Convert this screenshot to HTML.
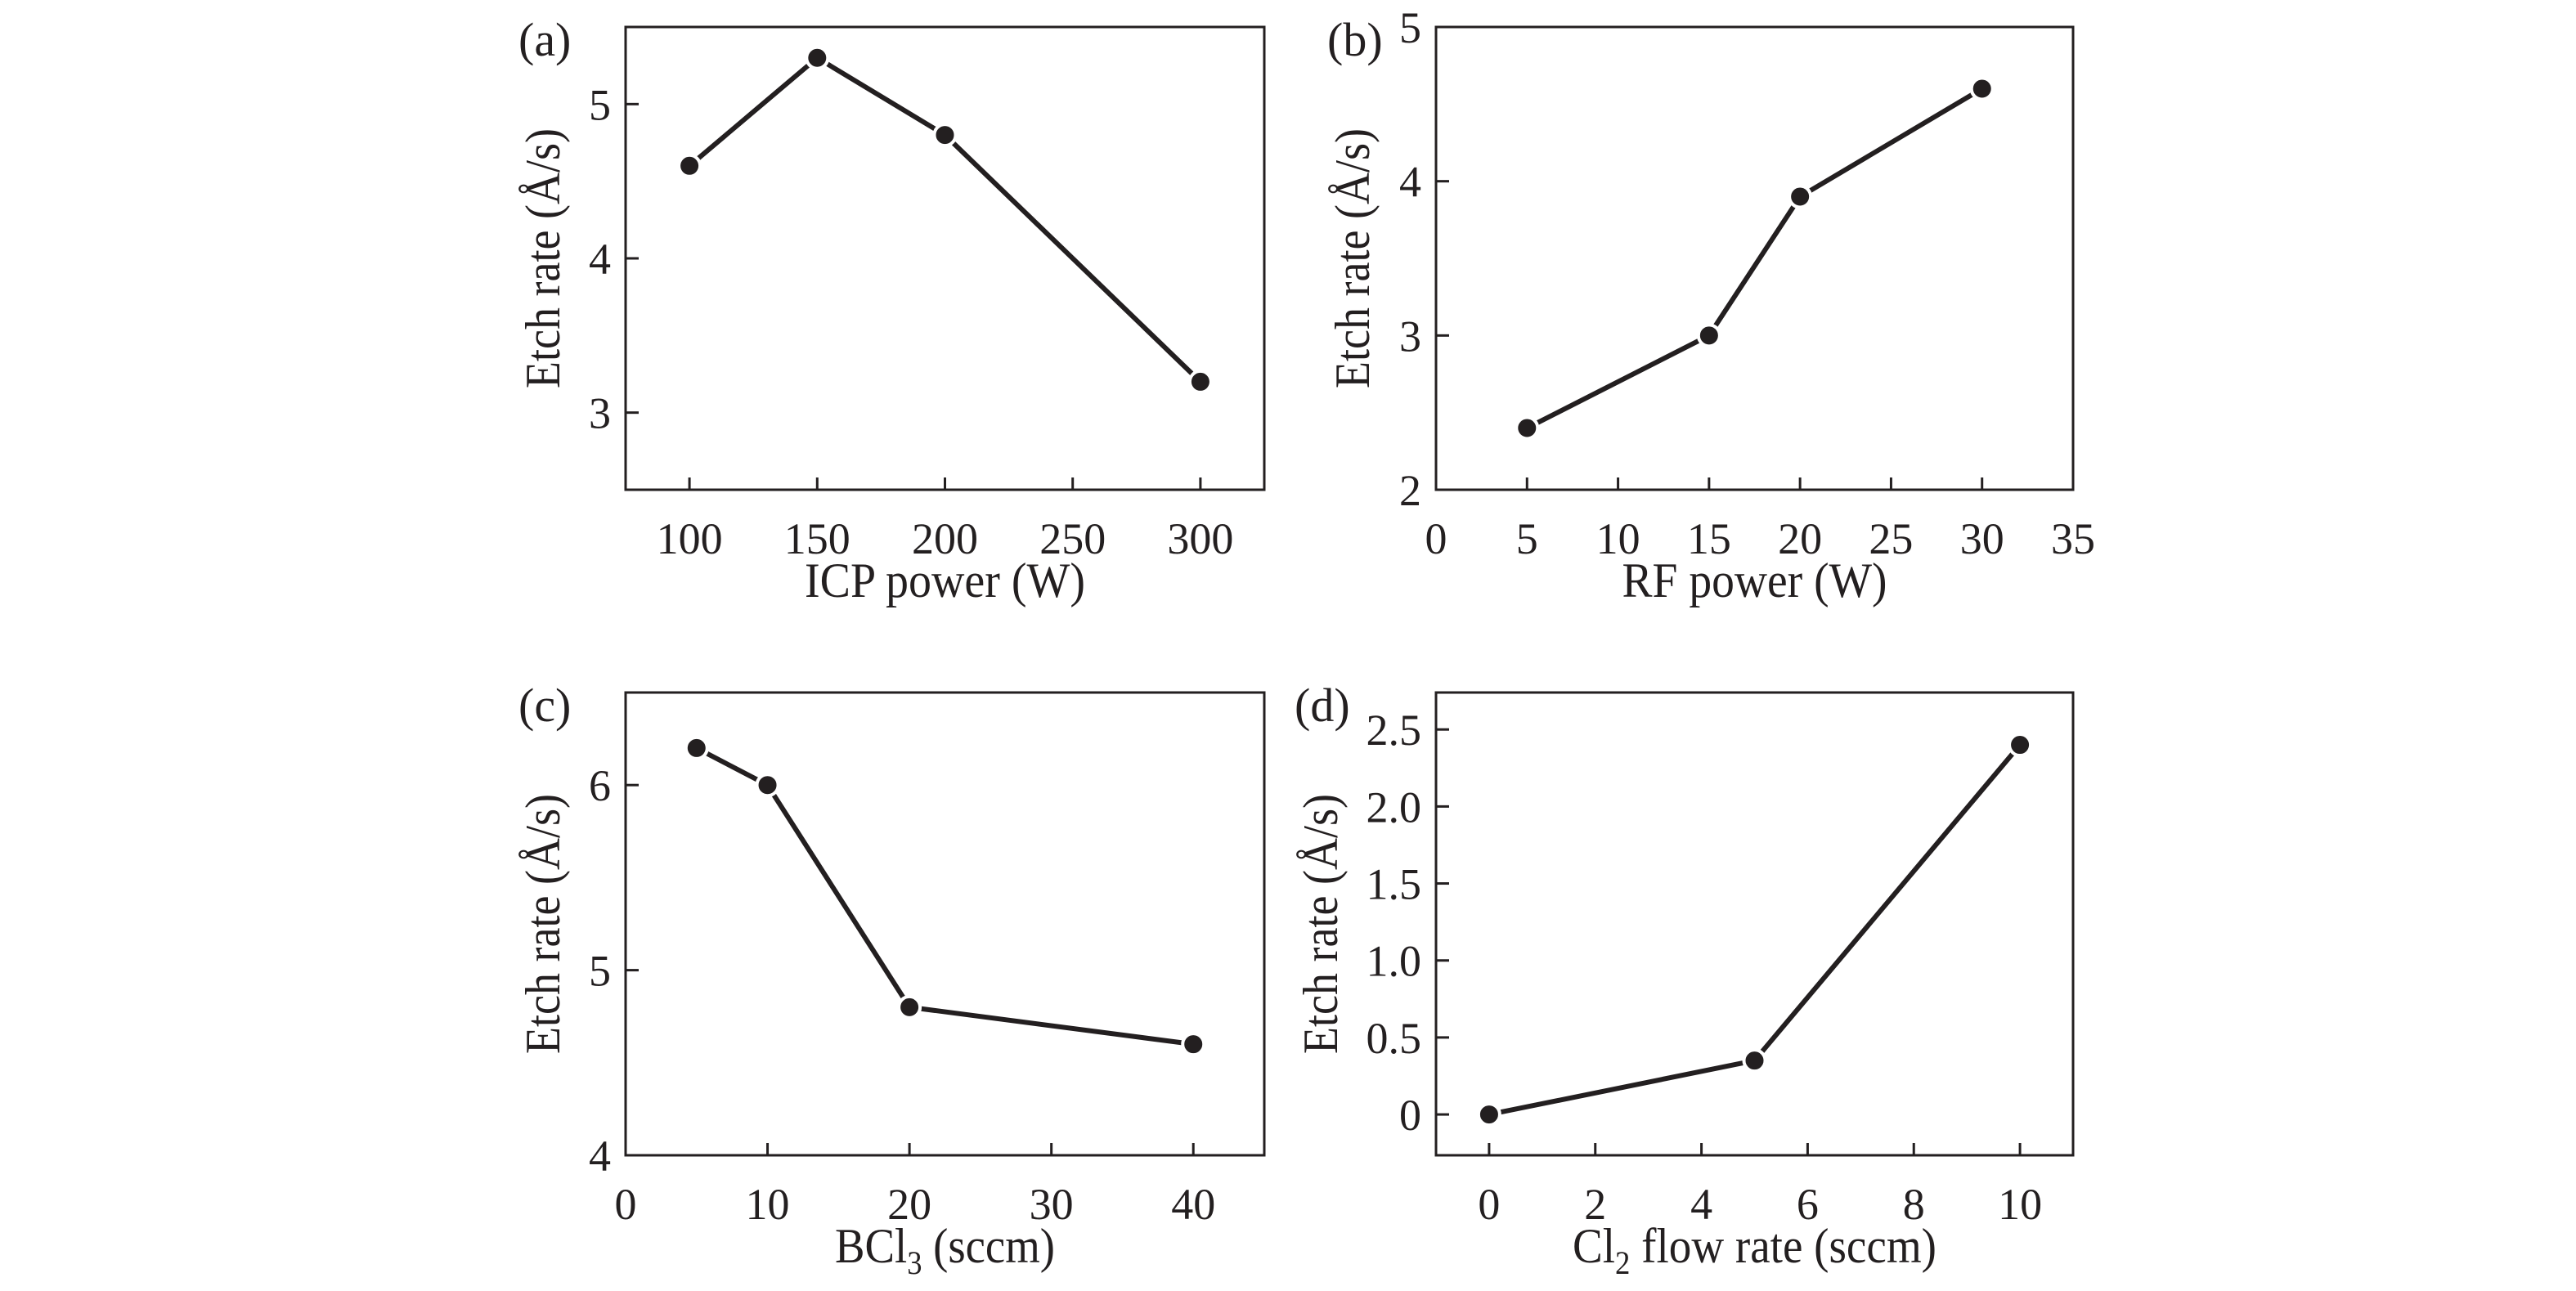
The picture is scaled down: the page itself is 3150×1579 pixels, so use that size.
<!DOCTYPE html>
<html><head><meta charset="utf-8"><style>
html,body{margin:0;padding:0;background:#fff}
svg{display:block}
text{font-family:"Liberation Serif",serif;fill:#231f20}
</style></head><body>
<svg id="fig" width="3150" height="1579" viewBox="0 0 3150 1579" xmlns="http://www.w3.org/2000/svg"></svg>
<script>
// Panel (a)
const aX = [100, 150, 200, 250, 300];
const aXvals = [100, 150, 200, 300];
const aYvals = [4.6, 5.3, 4.8, 3.2];
const aYticks = [3, 4, 5];
const aXlabels = ["100", "150", "200", "250", "300"];
const aYlabels = ["3", "4", "5"];
// Panel (b)
const bXvals = [5, 15, 20, 30];
const bYvals = [2.4, 3.0, 3.9, 4.6];
const bXticks = [0, 5, 10, 15, 20, 25, 30, 35];
const bXlabels = ["0", "5", "10", "15", "20", "25", "30", "35"];
const bYticks = [2, 3, 4, 5];
const bYlabels = ["2", "3", "4", "5"];
// Panel (c)
const cXvals = [5, 10, 20, 40];
const cYvals = [6.2, 6.0, 4.8, 4.6];
const cXticks = [0, 10, 20, 30, 40];
const cXlabels = ["0", "10", "20", "30", "40"];
const cYticks = [4, 5, 6];
const cYlabels = ["4", "5", "6"];
// Panel (d)
const dXvals = [0, 5, 10];
const dYvals = [0, 0.35, 2.4];
const dXticks = [0, 2, 4, 6, 8, 10];
const dXlabels = ["0", "2", "4", "6", "8", "10"];
const dYticks = [0, 0.5, 1.0, 1.5, 2.0, 2.5];
const dYlabels = ["0", "0.5", "1.0", "1.5", "2.0", "2.5"];

const NS = "http://www.w3.org/2000/svg";
const svg = document.getElementById("fig");
function mk(tag, attrs, parent){
  const e = document.createElementNS(NS, tag);
  for (const k in attrs) e.setAttribute(k, attrs[k]);
  (parent||svg).appendChild(e);
  return e;
}

function panel(o){
  const g = mk("g", {});
  
  
  const sx = v => o.x0 + (v - o.xmin) / (o.xmax - o.xmin) * (o.x1 - o.x0);
  const sy = v => o.y1 - (v - o.ymin) / (o.ymax - o.ymin) * (o.y1 - o.y0);
  const box = mk("rect", {x:o.x0, y:o.y0, width:o.x1-o.x0, height:o.y1-o.y0, fill:"none", stroke:"#231f20", "stroke-width":3}, g);
  
  
  o.xticks.forEach((t, i) => {
    const x = sx(t);
    if (Math.abs(x - o.x0) > 2 && Math.abs(x - o.x1) > 2) {
      const tk = mk("line", {x1:x, x2:x, y1:o.y1, y2:o.y1-15, stroke:"#231f20", "stroke-width":3}, g);
      
      
    }
    const lb = mk("text", {x:x, y:o.y1+78, "font-size":54, "text-anchor":"middle"}, g);
    lb.textContent = o.xlabels[i];
    
    
  });
  o.yticks.forEach((t, i) => {
    const y = sy(t);
    if (Math.abs(y - o.y0) > 2 && Math.abs(y - o.y1) > 2) {
      const tk = mk("line", {x1:o.x0, x2:o.x0+16, y1:y, y2:y, stroke:"#231f20", "stroke-width":3}, g);
      
      
    }
    const lb = mk("text", {x:o.x0-18, y:y+19, "font-size":54, "text-anchor":"end"}, g);
    lb.textContent = o.ylabels[i];
    
    
  });
  const pts = o.xv.map((v, i) => sx(v) + "," + sy(o.yv[i])).join(" ");
  const pl = mk("polyline", {points:pts, fill:"none", stroke:"#231f20", "stroke-width":6, "stroke-linejoin":"round"}, g);
  
  
  o.xv.forEach((v, i) => {
    const c = mk("circle", {cx:sx(v), cy:sy(o.yv[i]), r:13, fill:"#231f20", stroke:"#fff", "stroke-width":4}, g);
    
    
  });
  const xt = mk("text", {x:(o.x0+o.x1)/2, y:o.y1+131, "font-size":60, "text-anchor":"middle", textLength:o.xlen, lengthAdjust:"spacingAndGlyphs"}, g);
  xt.innerHTML = o.xtitle;
  
  
  const cx = o.x0 - o.yoff, cy = (o.y0 + o.y1)/2;
  const yt = mk("text", {x:cx, y:cy, "font-size":60, "text-anchor":"middle", textLength:318, lengthAdjust:"spacingAndGlyphs", transform:`rotate(-90 ${cx} ${cy}) translate(0 20)`}, g);
  yt.textContent = "Etch rate (Å/s)";
  
  
  const pl2 = mk("text", {x:o.lx, y:o.ly, "font-size":58}, g);
  pl2.textContent = "(" + o.id + ")";
  
  
}

panel({id:"a", x0:765, x1:1546, y0:33, y1:599, xmin:75, xmax:325, ymin:2.5, ymax:5.5,
  xticks:aX, xlabels:aXlabels, yticks:aYticks, ylabels:aYlabels, xv:aXvals, yv:aYvals,
  xtitle:"ICP power (W)", xlen:343, yoff:101, lx:634, ly:68});
panel({id:"b", x0:1756, x1:2535, y0:33, y1:599, xmin:0, xmax:35, ymin:2, ymax:5,
  xticks:bXticks, xlabels:bXlabels, yticks:bYticks, ylabels:bYlabels, xv:bXvals, yv:bYvals,
  xtitle:"RF power (W)", xlen:324, yoff:102, lx:1623, ly:68});
panel({id:"c", x0:765, x1:1546, y0:847, y1:1413, xmin:0, xmax:45, ymin:4, ymax:6.5,
  xticks:cXticks, xlabels:cXlabels, yticks:cYticks, ylabels:cYlabels, xv:cXvals, yv:cYvals,
  xtitle:'BCl<tspan font-size="40" dy="14">3</tspan><tspan dy="-14"> (sccm)</tspan>', xlen:269, yoff:101, lx:634, ly:882});
panel({id:"d", x0:1756, x1:2535, y0:847, y1:1413, xmin:-1, xmax:11, ymin:-0.265, ymax:2.74,
  xticks:dXticks, xlabels:dXlabels, yticks:dYticks, ylabels:dYlabels, xv:dXvals, yv:dYvals,
  xtitle:'Cl<tspan font-size="40" dy="14">2</tspan><tspan dy="-14"> flow rate (sccm)</tspan>', xlen:445, yoff:141, lx:1583, ly:882});
</script>
</body></html>
